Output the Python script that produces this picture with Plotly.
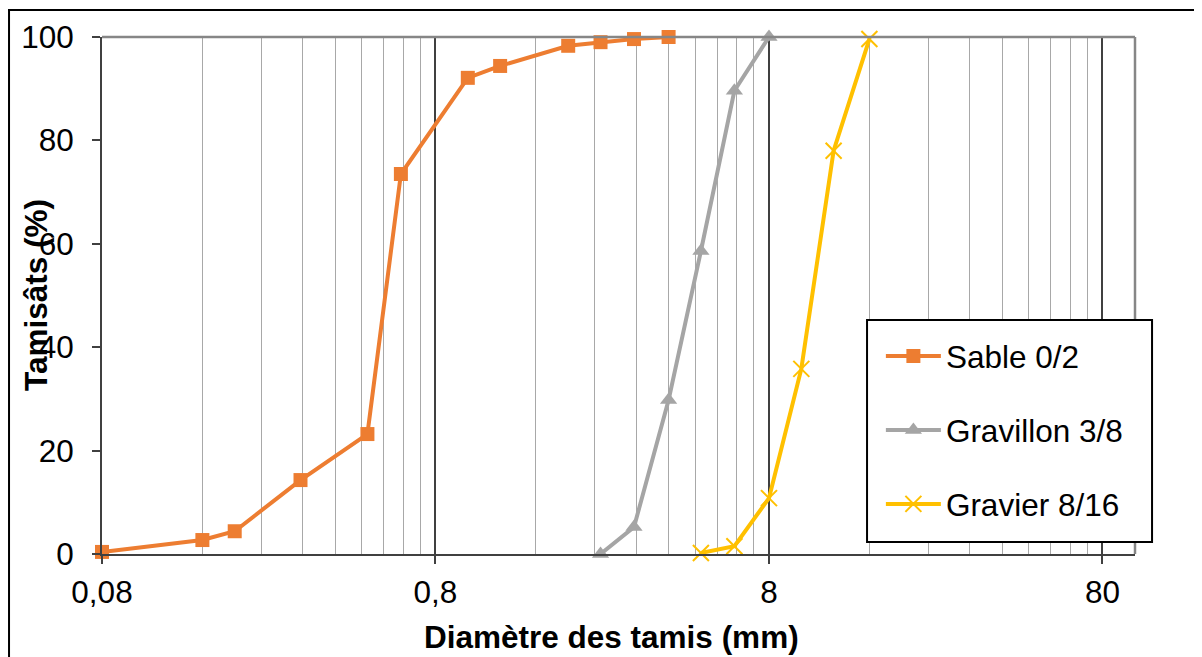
import math
import plotly.graph_objects as go

# ---- data ----
sable_x = [0.08, 0.16, 0.2, 0.315, 0.5, 0.63, 1, 1.25, 2, 2.5, 3.15, 4]
sable_y = [0.4, 2.7, 4.4, 14.3, 23.2, 73.5, 92.1, 94.4, 98.3, 99.0, 99.6, 100]
gravillon_x = [2.5, 3.15, 4, 5, 6.3, 8]
gravillon_y = [0.0, 5.2, 29.8, 58.6, 89.6, 100]
gravier_x = [5, 6.3, 8, 10, 12.5, 16]
gravier_y = [0.2, 1.5, 10.8, 35.8, 78.0, 99.6]

x_major_ticks = [0.08, 0.8, 8, 80]
x_major_labels = ["0,08", "0,8", "8", "80"]
x_minor_grid = [0.16, 0.24, 0.32, 0.40, 0.48, 0.56, 0.64, 0.72,
                1.6, 2.4, 3.2, 4.0, 4.8, 5.6, 6.4, 7.2,
                16, 24, 32, 40, 48, 56, 64, 72]
y_ticks = [0, 20, 40, 60, 80, 100]

FONT = "Liberation Sans, Arial, sans-serif"
FS = 31.5

fig = go.Figure()
fig.add_trace(go.Scatter(
    x=sable_x, y=sable_y, name="Sable 0/2", legendgroup="a",
    mode="lines+markers", cliponaxis=False,
    line=dict(color="#ED7D31", width=4),
    marker=dict(symbol="square", size=14, color="#ED7D31")))
fig.add_trace(go.Scatter(
    x=gravillon_x, y=gravillon_y, name="Gravillon 3/8", legendgroup="b",
    mode="lines+markers", cliponaxis=False,
    line=dict(color="#A5A5A5", width=4),
    marker=dict(symbol="triangle-up", size=15, color="#A5A5A5")))
fig.add_trace(go.Scatter(
    x=gravier_x, y=gravier_y, name="Gravier 8/16", legendgroup="c",
    mode="lines+markers", cliponaxis=False,
    line=dict(color="#FFC000", width=4),
    marker=dict(symbol="x-thin", size=16, color="#FFC000",
                line=dict(color="#FFC000", width=2))))

fig.update_layout(
    width=1202, height=657,
    margin=dict(l=94, r=75, t=29, b=111, autoexpand=False),
    paper_bgcolor="white", plot_bgcolor="white",
    font=dict(family=FONT, size=FS, color="black"),
    showlegend=True,
    legend=dict(x=0.754, y=0.4352, xanchor="left", yanchor="top",
                bgcolor="rgba(0,0,0,0)", borderwidth=0,
                font=dict(size=FS), tracegroupgap=30, itemwidth=55),
    xaxis=dict(type="log", range=[math.log10(0.08), 2.0006],
               automargin=False,
               tickmode="array", tickvals=x_major_ticks, ticktext=x_major_labels,
               showgrid=True, gridcolor="#404040", gridwidth=1.5,
               ticks="outside", ticklen=8, tickcolor="#404040", tickwidth=1.5,
               ticklabelstandoff=1,
               showline=True, linecolor="#404040", linewidth=2,
               zeroline=False,
               minor=dict(tickmode="array", tickvals=x_minor_grid,
                          showgrid=True, gridcolor="#a8a8a8", gridwidth=1,
                          ticks="")),
    yaxis=dict(range=[0, 100], tickmode="array", tickvals=y_ticks,
               automargin=False,
               showgrid=False, zeroline=False,
               ticks="outside", ticklen=8, tickcolor="#404040", tickwidth=1.5,
               ticklabelstandoff=12,
               showline=True, linecolor="#404040", linewidth=2),
    annotations=[
        dict(text="<b>Diamètre des tamis (mm)</b>", xref="paper", yref="paper",
             x=0.4937, y=-0.1605, xanchor="center", yanchor="middle",
             showarrow=False, font=dict(size=FS)),
        dict(text="<b>Tamisâts (%)</b>", xref="paper", yref="paper",
             x=-0.0639, y=0.501, xanchor="center", yanchor="middle",
             textangle=-90, showarrow=False, font=dict(size=FS)),
    ],
)

# top and right plot-area borders (grey)
fig.add_shape(type="line", xref="x domain", yref="y domain",
              x0=0, x1=1, y0=1, y1=1, line=dict(color="#868686", width=2.5))
fig.add_shape(type="line", xref="x domain", yref="y domain",
              x0=1, x1=1, y0=0, y1=1, line=dict(color="#868686", width=2.5))
# legend box
fig.add_shape(type="rect", xref="paper", yref="paper",
              x0=0.7406, x1=1.0165, y0=0.0232, y1=0.4526,
              fillcolor="white", line=dict(color="black", width=2),
              layer="above")
# outer chart frame
fig.add_shape(type="rect", xref="paper", yref="paper",
              x0=-0.09, x1=1.2, y0=-0.3, y1=1.052,
              line=dict(color="black", width=2), layer="below")

fig.write_html("out.html")
